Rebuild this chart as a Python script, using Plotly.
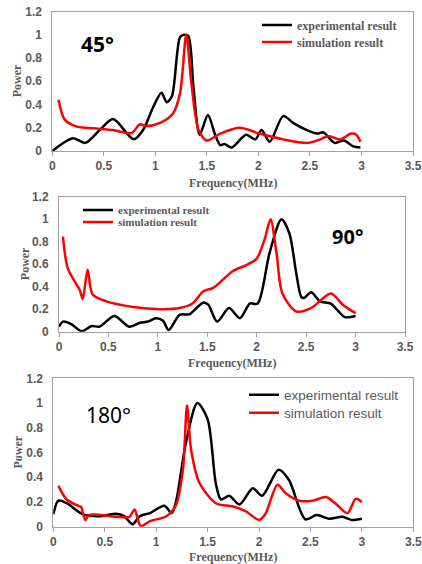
import plotly.graph_objects as go

# ---------------- data ----------------
freq45_exp = [0, 0.2, 0.32, 0.46, 0.59, 0.79, 0.88, 0.98, 1.06, 1.11, 1.16, 1.24, 1.28, 1.32, 1.37, 1.43, 1.51,
              1.58, 1.63, 1.67, 1.74, 1.88, 1.97, 2.03, 2.11, 2.24, 2.34, 2.47, 2.57, 2.63, 2.74, 2.83, 2.92, 2.99]
pow45_exp = [0, 0.11, 0.07, 0.18, 0.275, 0.10, 0.18, 0.38, 0.50, 0.42, 0.47, 0.98, 1.0, 0.99, 0.55, 0.14, 0.31,
             0.14, 0.05, 0.06, 0.03, 0.14, 0.10, 0.18, 0.08, 0.30, 0.24, 0.18, 0.15, 0.16, 0.07, 0.09, 0.04, 0.03]
freq45_sim = [0.06, 0.12, 0.24, 0.40, 0.59, 0.77, 0.85, 0.91, 1.04, 1.17, 1.24, 1.30, 1.35, 1.42, 1.50, 1.63,
              1.82, 2.01, 2.24, 2.48, 2.60, 2.68, 2.79, 2.90, 2.95, 2.99]
pow45_sim = [0.44, 0.27, 0.21, 0.195, 0.18, 0.155, 0.23, 0.215, 0.24, 0.32, 0.50, 1.0, 0.58, 0.18, 0.09, 0.15,
             0.20, 0.15, 0.10, 0.07, 0.10, 0.13, 0.10, 0.15, 0.14, 0.08]

freq90_exp = [0, 0.04, 0.12, 0.23, 0.33, 0.41, 0.56, 0.71, 0.82, 0.90, 0.98, 1.05, 1.11, 1.22, 1.32, 1.46, 1.51,
              1.60, 1.72, 1.83, 1.93, 2.01, 2.13, 2.25, 2.33, 2.40, 2.45, 2.48, 2.55, 2.64, 2.75, 2.89, 3.0]
pow90_exp = [0.045, 0.09, 0.07, 0.005, 0.05, 0.045, 0.14, 0.045, 0.08, 0.09, 0.12, 0.10, 0.015, 0.15, 0.155,
             0.26, 0.24, 0.09, 0.21, 0.12, 0.25, 0.25, 0.70, 1.0, 0.875, 0.52, 0.31, 0.30, 0.35, 0.27, 0.25, 0.13, 0.14]
freq90_sim = [0.04, 0.09, 0.21, 0.24, 0.29, 0.34, 0.48, 0.75, 1.02, 1.22, 1.35, 1.46, 1.56, 1.76, 1.89, 2.0,
              2.08, 2.14, 2.20, 2.26, 2.40, 2.55, 2.75, 2.87, 3.0]
pow90_sim = [0.845, 0.56, 0.37, 0.29, 0.55, 0.33, 0.27, 0.22, 0.20, 0.21, 0.25, 0.36, 0.39, 0.54, 0.59, 0.65,
             0.82, 1.0, 0.70, 0.34, 0.18, 0.21, 0.34, 0.24, 0.165]

freq180_exp = [0, 0.05, 0.13, 0.29, 0.45, 0.61, 0.69, 0.77, 0.84, 0.94, 1.08, 1.15, 1.19, 1.29, 1.40, 1.50,
               1.58, 1.63, 1.71, 1.81, 1.94, 2.03, 2.19, 2.29, 2.45, 2.56, 2.68, 2.81, 2.90, 3.0]
pow180_exp = [0.10, 0.21, 0.19, 0.10, 0.085, 0.105, 0.085, 0.02, 0.085, 0.11, 0.17, 0.11, 0.19, 0.68, 1.0,
              0.87, 0.35, 0.22, 0.25, 0.18, 0.31, 0.25, 0.46, 0.38, 0.06, 0.094, 0.065, 0.08, 0.055, 0.065]
freq180_sim = [0.05, 0.13, 0.24, 0.27, 0.31, 0.35, 0.61, 0.74, 0.79, 0.85, 0.94, 1.10, 1.19, 1.26, 1.30, 1.34,
               1.42, 1.58, 1.74, 1.87, 2.0, 2.06, 2.18, 2.26, 2.39, 2.52, 2.65, 2.74, 2.86, 2.94, 3.0]
pow180_sim = [0.33, 0.22, 0.17, 0.16, 0.055, 0.095, 0.08, 0.08, 0.14, 0.005, 0.045, 0.085, 0.17, 0.46, 0.98,
              0.62, 0.355, 0.19, 0.165, 0.125, 0.055, 0.10, 0.34, 0.27, 0.21, 0.21, 0.24, 0.19, 0.11, 0.225, 0.20]

angle_labels = ["45°", "90°", "180°"]
series_names = ["experimental result", "simulation result"]
x_title = "Frequency(MHz)"
y_title = "Power"
x_ticks = [0, 0.5, 1, 1.5, 2, 2.5, 3, 3.5]
x_ticktext = ["0", "0.5", "1", "1.5", "2", "2.5", "3", "3.5"]
y_ticks = [0, 0.2, 0.4, 0.6, 0.8, 1.0, 1.2]
y_ticktext = ["0", "0.2", "0.4", "0.6", "0.8", "1", "1.2"]

# ---------------- figure ----------------
W, H = 422, 564
fig = go.Figure()

panels = [
    (freq45_exp, pow45_exp, freq45_sim, pow45_sim),
    (freq90_exp, pow90_exp, freq90_sim, pow90_sim),
    (freq180_exp, pow180_exp, freq180_sim, pow180_sim),
]
# pixel boxes of plot areas: (left, top, right, bottom)
boxes = [(52.3, 11.5, 413.0, 151.0), (59.0, 196.7, 405.0, 331.7), (53.3, 378.3, 413.3, 526.7)]
# axis-title pixel positions: (x-title centre y, y-title centre x)
title_pos = [(183, 17), (363, 25), (557, 17)]
serif = "Liberation Serif"
sans = "Liberation Sans"
grey = "#595959"
colors = ["black", "#ff0000"]

leg_idx = 0
for i, (fe, pe, fs, ps) in enumerate(panels):
    sfx = "" if i == 0 else str(i + 1)
    for j, (xs, ys) in enumerate([(fe, pe), (fs, ps)]):
        leg_idx += 1
        lname = "legend" if leg_idx == 1 else "legend%d" % leg_idx
        fig.add_trace(go.Scatter(x=xs, y=ys, mode="lines", name=series_names[j],
                                 line=dict(color=colors[j], width=2.5, shape="spline", smoothing=0.8),
                                 xaxis="x" + sfx, yaxis="y" + sfx, legend=lname))

layout = dict(width=W, height=H, margin=dict(l=0, r=0, t=0, b=0, autoexpand=False),
              paper_bgcolor="white", plot_bgcolor="white", showlegend=True)

for i, (l, t, r, b) in enumerate(boxes):
    sfx = "" if i == 0 else str(i + 1)
    layout["xaxis" + sfx] = dict(
        domain=[l / W, r / W], range=[0, 3.5], tickvals=x_ticks, ticktext=x_ticktext,
        showgrid=False, zeroline=False, showline=True, mirror=True, linecolor="#a0a0a0", linewidth=1,
        ticks="outside", ticklen=4, tickcolor="#a0a0a0", automargin=False,
        tickfont=dict(family=sans, size=12, color=grey, weight="bold"),
        anchor="y" + sfx, fixedrange=True)
    layout["yaxis" + sfx] = dict(
        domain=[1 - b / H, 1 - t / H], range=[0, 1.2], tickvals=y_ticks, ticktext=y_ticktext,
        showgrid=False, zeroline=False, showline=True, mirror=True, linecolor="#a0a0a0", linewidth=1,
        ticks="", ticklabelstandoff=7, automargin=False,
        tickfont=dict(family=sans, size=12, color=grey, weight="bold"),
        anchor="x" + sfx, fixedrange=True)

# legends: one per trace, positioned in pixels (text left x, centre y)
leg_pos = [(295, 25, serif, 12, "bold"), (295, 42, serif, 12, "bold"),
           (116, 210, serif, 11, "bold"), (116, 222, serif, 11, "bold"),
           (282, 395, sans, 13.5, "normal"), (282, 413, sans, 13.5, "normal")]
for k, (tx, cy, fam, fsz, wt) in enumerate(leg_pos):
    lname = "legend" if k == 0 else "legend%d" % (k + 1)
    layout[lname] = dict(x=(tx - 38) / W, y=1 - cy / H, xanchor="left", yanchor="middle",
                         bgcolor="rgba(0,0,0,0)", borderwidth=0,
                         font=dict(family=fam, size=fsz, color=grey, weight=wt))

fig.update_layout(**layout)

# axis titles
title_font = dict(family=serif, size=12, color=grey, weight="bold")
for i, ((l, t, r, b), (xty, ytx)) in enumerate(zip(boxes, title_pos)):
    fig.add_annotation(x=(l + r) / 2 / W, y=1 - xty / H, xref="paper", yref="paper", text=x_title,
                       showarrow=False, xanchor="center", yanchor="middle", font=title_font)
    fig.add_annotation(x=ytx / W, y=1 - (t + b) / 2 / H, xref="paper", yref="paper", text=y_title,
                       showarrow=False, xanchor="center", yanchor="middle", textangle=-90, font=title_font)

# angle labels
ann_pos = [(0.44, 0.92, "bold", 21), (2.92, 0.85, "bold", 20), (0.54, 0.90, "normal", 21)]
for i, (ax_x, ax_y, wt, fsz) in enumerate(ann_pos):
    sfx = "" if i == 0 else str(i + 1)
    fig.add_annotation(x=ax_x, y=ax_y, xref="x" + sfx, yref="y" + sfx, text=angle_labels[i],
                       showarrow=False, xanchor="center", yanchor="middle",
                       font=dict(family="Noto Sans", size=fsz, color="black", weight=wt))

fig.write_html("out.html", config={"displayModeBar": False},
               post_script="document.body.style.margin='0px';")
